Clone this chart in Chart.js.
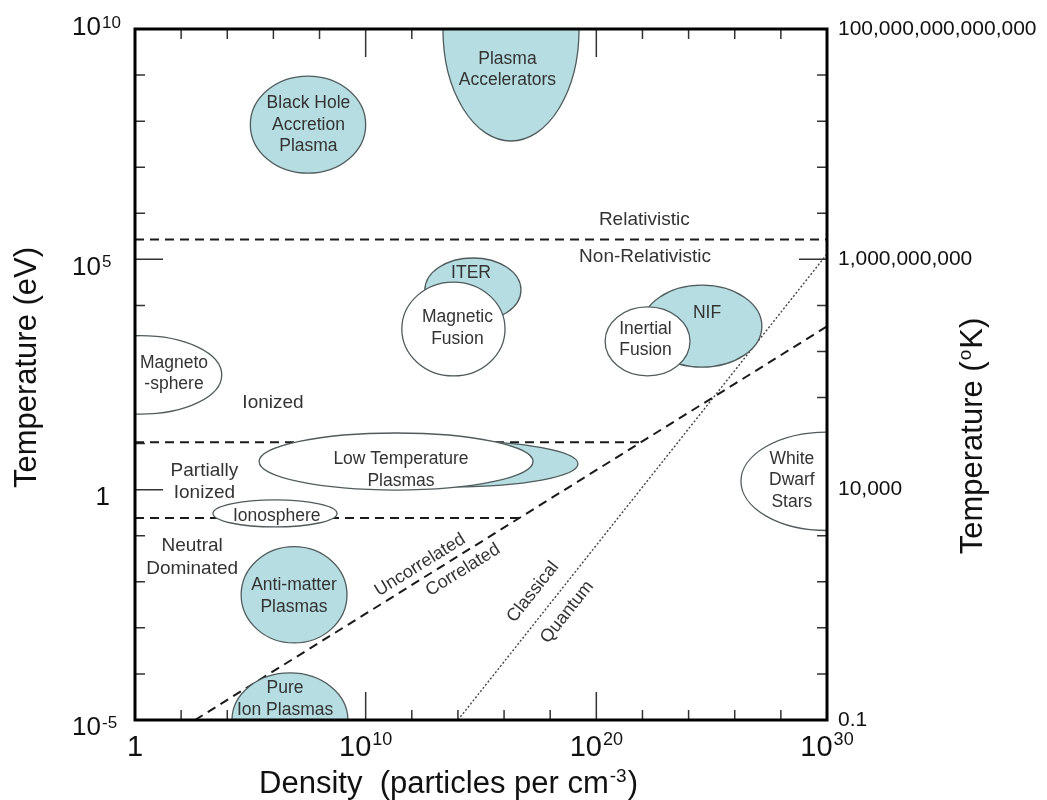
<!DOCTYPE html>
<html><head><meta charset="utf-8">
<script src="https://cdn.jsdelivr.net/npm/chart.js@4"></script>
<style>html,body{margin:0;padding:0;background:#fff}</style>
</head><body>
<canvas id="c" width="1047" height="800"></canvas>
<script>
// ---------- axes ----------
const densityRange = [1, 1e30];
const tempRange = [1e-5, 1e10];
const kelvinRange = [0.1, 1e14];
const densityMajorTicks = [1, 1e10, 1e20, 1e30];
const densityTickBase = ['1', '10', '10', '10'];
const densityTickSup = ['', '10', '20', '30'];
const densityMinorTicks = [1e2, 1e4, 1e6, 1e8, 1e12, 1e14, 1e16, 1e18, 1e22, 1e24, 1e26, 1e28];
const tempMajorTicks = [1e-5, 1, 1e5, 1e10];
const tempTickBase = ['10', '1', '10', '10'];
const tempTickSup = ['-5', '', '5', '10'];
const tempMinorTicks = [1e-4, 1e-3, 1e-2, 1e-1, 1e1, 1e2, 1e3, 1e4, 1e6, 1e7, 1e8, 1e9];
const kelvinMajorTicks = [0.1, 1e4, 1e9, 1e14];
const kelvinTickLabels = ['0.1', '10,000', '1,000,000,000', '100,000,000,000,000'];
const kelvinMinorTicks = [1, 1e1, 1e2, 1e3, 1e5, 1e6, 1e7, 1e8, 1e10, 1e11, 1e12, 1e13];

// ---------- boundaries ----------
const relativisticT = 2.7e5;
const ionizedT = 10.7;
const ionizedEndN = 8.5e21;
const neutralT = 0.243;
const neutralEndN = 4.5e16;
const correlationN = [4e2, 1e30];
const correlationT = [1e-5, 3.5e3];
const degeneracyN = [1e14, 1e30];
const degeneracyT = [1e-5, 1.3e5];

// ---------- plasma regions (drawn in this order) ----------
const regionNames   = ['Black Hole', 'Plasma Accelerators', 'ITER', 'NIF', 'Low Temp (blue)', 'Anti-matter', 'Pure Ion',
                       'Magnetic Fusion', 'Inertial Fusion', 'Low Temp', 'Ionosphere', 'Magnetosphere', 'White Dwarf'];
const regionNMin    = [1e5,   2.24e13, 3.7e12, 9.5e21, 2.8e8,  4e4,    1.6e4,  3.7e11, 2.4e20, 2.4e5,  2.4e3,  5e-4,  1.86e26];
const regionNMax    = [1e10,  1.78e19, 5.4e16, 1.5e27, 1.6e19, 1.55e9, 1.7e9,  1.1e16, 1.15e24, 1.8e17, 5.75e8, 5.75e3, 5.4e33];
const regionTMin    = [7.4e6, 3.7e7,   4.4e3,  457,    1.15,   4.7e-4, 9.5e-7, 295,    295,    0.98,   0.155,  43.6,  0.13];
const regionTMax    = [9.5e8, 2.7e12,  1.07e5, 2.75e4, 11.5,   0.058,  1.05e-4, 3.2e4, 9.3e3,  17,     0.6,    2.2e3, 17.8];
const regionFilled  = [true,  true,    true,   true,   true,   true,   true,   false,  false,  false,  false,  false, false];

// ---------- labels ----------
const regionLabelText = ['Black Hole\nAccretion\nPlasma', 'Plasma\nAccelerators', 'ITER', 'Magnetic\nFusion', 'NIF',
                         'Inertial\nFusion', 'Magneto\n-sphere', 'Low Temperature\nPlasmas', 'Ionosphere',
                         'White\nDwarf\nStars', 'Anti-matter\nPlasmas', 'Pure\nIon Plasmas'];
const regionLabelN = [3.3e7, 1.4e16, 3.7e14, 9.5e13, 6.3e24, 1.35e22, 49, 3.4e11, 1.4e6, 3e28, 7.8e6, 3.2e6];
const regionLabelT = [8.2e7, 1.3e9, 5.0e4, 3.2e3, 6.8e3, 1.8e3, 333, 2.67, 0.26, 1.58, 4.9e-3, 2.8e-5];

const zoneLabelText = ['Relativistic', 'Non-Relativistic', 'Ionized', 'Partially\nIonized', 'Neutral\nDominated'];
const zoneLabelN = [1.2e22, 1.3e22, 9.6e5, 1.02e3, 3e2];
const zoneLabelT = [7.1e5, 1.12e5, 76, 1.5, 0.034];

const correlationLabelText = ['Uncorrelated', 'Correlated'];
const correlationLabelN = [2.3e12, 1.66e14];
const correlationLabelT = [0.0232, 0.018];
const degeneracyLabelText = ['Classical', 'Quantum'];
const degeneracyLabelN = [1.8e17, 5.4e18];
const degeneracyLabelT = [6e-3, 2.2e-3];

// ---------- styles ----------
const FONT = '"Liberation Sans", Arial, Helvetica, sans-serif';
const fnt = s => s + 'px ' + FONT;
const BLUE = '#b6dde1';
const OUTLINE = '#4f5b5c';
const TEXT = '#333';

function drawText(ctx, s, x, y, size, lh) {
  const lines = s.split('\n');
  const y0 = y - (lines.length - 1) * lh / 2;
  ctx.font = fnt(size); ctx.fillStyle = TEXT; ctx.textAlign = 'center'; ctx.textBaseline = 'middle';
  lines.forEach((l, i) => ctx.fillText(l, x, y0 + i * lh));
}
// y = vertical middle of base digits
function supText(ctx, base, sup, left, y, bSize, sSize, raise, color) {
  ctx.fillStyle = color || '#111';
  ctx.textAlign = 'left'; ctx.textBaseline = 'alphabetic';
  ctx.font = fnt(bSize);
  const bw = ctx.measureText(base).width;
  ctx.fillText(base, left, y + 0.358 * bSize);
  if (sup) {
    ctx.font = fnt(sSize);
    ctx.fillText(sup, left + bw + 1, y - 0.358 * bSize + 0.716 * sSize - raise);
  }
}
function supWidth(ctx, base, sup, bSize, sSize) {
  ctx.font = fnt(bSize); let w = ctx.measureText(base).width;
  if (sup) { ctx.font = fnt(sSize); w += ctx.measureText(sup).width + 1; }
  return w;
}

const chartPlugin = {
  id: 'plasmaDiagram',
  beforeDatasetsDraw(chart) {
    const ctx = chart.ctx, a = chart.chartArea;
    const xs = chart.scales.x, ys = chart.scales.y, ks = chart.scales.k;
    const MAJ = 28, MIN = 10;
    ctx.save();
    ctx.strokeStyle = '#333'; ctx.lineWidth = 1.5;
    ctx.beginPath();
    densityMajorTicks.forEach(v => { const x = xs.getPixelForValue(v);
      ctx.moveTo(x, a.bottom); ctx.lineTo(x, a.bottom - MAJ); ctx.moveTo(x, a.top); ctx.lineTo(x, a.top + MAJ); });
    densityMinorTicks.forEach(v => { const x = xs.getPixelForValue(v);
      ctx.moveTo(x, a.bottom); ctx.lineTo(x, a.bottom - MIN); ctx.moveTo(x, a.top); ctx.lineTo(x, a.top + MIN); });
    tempMajorTicks.forEach(v => { const y = ys.getPixelForValue(v); ctx.moveTo(a.left, y); ctx.lineTo(a.left + MAJ, y); });
    tempMinorTicks.forEach(v => { const y = ys.getPixelForValue(v); ctx.moveTo(a.left, y); ctx.lineTo(a.left + MIN, y); });
    kelvinMajorTicks.forEach(v => { const y = ks.getPixelForValue(v); ctx.moveTo(a.right, y); ctx.lineTo(a.right - MAJ, y); });
    kelvinMinorTicks.forEach(v => { const y = ks.getPixelForValue(v); ctx.moveTo(a.right, y); ctx.lineTo(a.right - MIN, y); });
    ctx.stroke();
    ctx.restore();
  },
  afterDatasetsDraw(chart) {
    const ctx = chart.ctx, a = chart.chartArea;
    const xs = chart.scales.x, ys = chart.scales.y, ks = chart.scales.k;
    const X = v => xs.getPixelForValue(v), Y = v => ys.getPixelForValue(v);
    // regions
    ctx.save();
    ctx.beginPath(); ctx.rect(a.left, a.top, a.right - a.left, a.bottom - a.top); ctx.clip();
    regionNames.forEach((n, i) => {
      const x1 = X(regionNMin[i]), x2 = X(regionNMax[i]);
      const y1 = Y(regionTMax[i]), y2 = Y(regionTMin[i]);
      ctx.beginPath();
      ctx.ellipse((x1 + x2) / 2, (y1 + y2) / 2, Math.abs(x2 - x1) / 2, Math.abs(y2 - y1) / 2, 0, 0, Math.PI * 2);
      ctx.fillStyle = regionFilled[i] ? BLUE : '#fff';
      ctx.fill();
      ctx.strokeStyle = OUTLINE; ctx.lineWidth = 1.3; ctx.stroke();
    });
    ctx.restore();
    // frame
    ctx.save();
    ctx.strokeStyle = '#000'; ctx.lineWidth = 3;
    ctx.strokeRect(a.left, a.top, a.right - a.left, a.bottom - a.top);
    ctx.restore();
    // labels
    ctx.save();
    regionLabelText.forEach((t, i) => drawText(ctx, t, X(regionLabelN[i]), Y(regionLabelT[i]), 17.5, 21.5));
    zoneLabelText.forEach((t, i) => drawText(ctx, t, X(zoneLabelN[i]), Y(zoneLabelT[i]), 19, 22.5));
    const rot = (texts, ns, ts, lnN, lnT) => {
      const ang = Math.atan2(Y(lnT[1]) - Y(lnT[0]), X(lnN[1]) - X(lnN[0]));
      texts.forEach((t, i) => {
        ctx.save();
        ctx.translate(X(ns[i]), Y(ts[i])); ctx.rotate(ang);
        drawText(ctx, t, 0, 0, 18, 20);
        ctx.restore();
      });
    };
    rot(correlationLabelText, correlationLabelN, correlationLabelT, correlationN, correlationT);
    rot(degeneracyLabelText, degeneracyLabelN, degeneracyLabelT, degeneracyN, degeneracyT);

    // bottom tick labels
    densityMajorTicks.forEach((v, i) => {
      const w = supWidth(ctx, densityTickBase[i], densityTickSup[i], 29, 18);
      supText(ctx, densityTickBase[i], densityTickSup[i], X(v) - w / 2, a.bottom + 26, 29, 18, 4);
    });
    // left tick labels
    tempMajorTicks.forEach((v, i) => {
      const t = Y(v);
      const yy = (v === tempRange[1]) ? t - 3 : t + 6;
      const base = tempTickBase[i], sup = tempTickSup[i];
      ctx.font = fnt(26);
      const bw = ctx.measureText(base).width;
      const right = sup ? 101 : 110;
      supText(ctx, base, sup, right - bw, yy, 26, 17, 1);
    });
    // right tick labels (Kelvin)
    kelvinMajorTicks.forEach((v, i) => {
      ctx.font = fnt(21); ctx.fillStyle = '#111'; ctx.textAlign = 'left'; ctx.textBaseline = 'middle';
      ctx.fillText(kelvinTickLabels[i], a.right + 11, ks.getPixelForValue(v));
    });
    // axis titles
    const bw = supWidth(ctx, 'Density  (particles per cm', '-3', 31, 19);
    ctx.font = fnt(31); const pw = ctx.measureText(')').width;
    const bl = (a.left + a.right) / 2 - 33 - (bw + pw) / 2;
    supText(ctx, 'Density  (particles per cm', '-3', bl, a.bottom + 62, 31, 19, 3);
    ctx.font = fnt(31); ctx.fillText(')', bl + bw + 1, a.bottom + 62 + 0.358 * 31);

    ctx.save();
    ctx.translate(27, (a.top + a.bottom) / 2 - 7); ctx.rotate(-Math.PI / 2);
    ctx.font = fnt(31); ctx.fillStyle = '#111'; ctx.textAlign = 'center'; ctx.textBaseline = 'middle';
    ctx.fillText('Temperature (eV)', 0, 0);
    ctx.restore();

    ctx.save();
    ctx.translate(971, (a.top + a.bottom) / 2 + 62); ctx.rotate(-Math.PI / 2);
    const w1 = supWidth(ctx, 'Temperature (', 'o', 31, 19);
    ctx.font = fnt(31); const w2 = ctx.measureText('K)').width;
    const l0 = -(w1 + w2) / 2;
    supText(ctx, 'Temperature (', 'o', l0, 0, 31, 19, 3);
    ctx.font = fnt(31); ctx.fillText('K)', l0 + w1 + 1, 0.358 * 31);
    ctx.restore();
    ctx.restore();
  }
};

const dashStyle = { borderColor: '#1a1a1a', borderWidth: 2, borderDash: [9, 6], pointRadius: 0, showLine: true, fill: false, tension: 0 };
const pts = (ns, ts) => ns.map((n, i) => ({ x: n, y: ts[i] }));

new Chart(document.getElementById('c'), {
  type: 'scatter',
  data: {
    datasets: [
      Object.assign({ label: 'Relativistic limit', data: pts([densityRange[0], densityRange[1]], [relativisticT, relativisticT]) }, dashStyle),
      Object.assign({ label: 'Ionization', data: pts([densityRange[0], ionizedEndN], [ionizedT, ionizedT]) }, dashStyle),
      Object.assign({ label: 'Neutral', data: pts([densityRange[0], neutralEndN], [neutralT, neutralT]) }, dashStyle),
      Object.assign({ label: 'Correlation', data: pts(correlationN, correlationT) }, dashStyle),
      { label: 'Degeneracy', data: pts(degeneracyN, degeneracyT), borderColor: '#444', borderWidth: 1.4,
        borderDash: [2, 2], pointRadius: 0, showLine: true, fill: false, tension: 0 }
    ]
  },
  options: {
    responsive: false, animation: false, events: [],
    layout: { padding: { left: 135, right: 220, top: 29, bottom: 80 } },
    plugins: { legend: { display: false }, tooltip: { enabled: false } },
    scales: {
      x: { type: 'logarithmic', min: densityRange[0], max: densityRange[1], display: false },
      y: { type: 'logarithmic', min: tempRange[0], max: tempRange[1], display: false },
      k: { type: 'logarithmic', position: 'right', min: kelvinRange[0], max: kelvinRange[1], display: false }
    }
  },
  plugins: [chartPlugin]
});
</script>
</body></html>
